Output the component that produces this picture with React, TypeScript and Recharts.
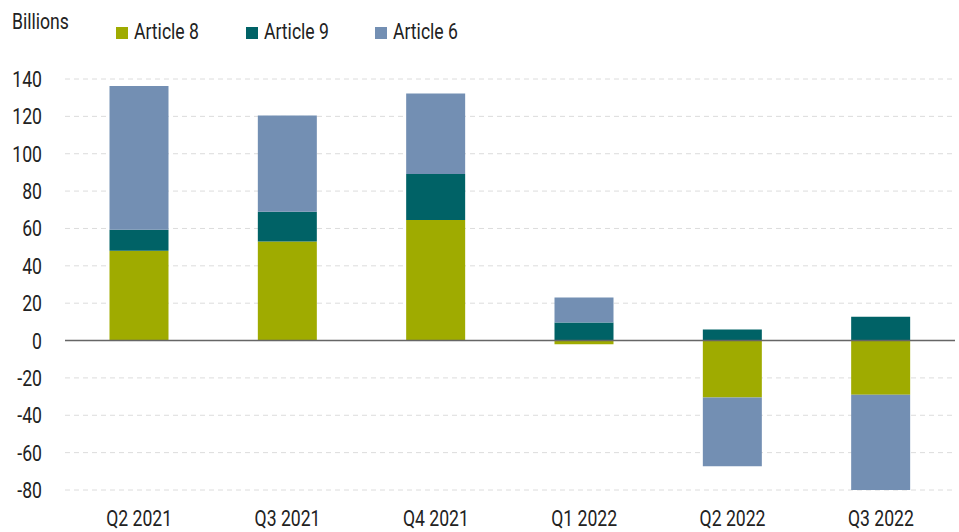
import React from "react";
import {
  Bar,
  BarChart,
  CartesianGrid,
  ReferenceLine,
  XAxis,
  YAxis,
} from "recharts";

const quarters = ["Q2 2021", "Q3 2021", "Q4 2021", "Q1 2022", "Q2 2022", "Q3 2022"];
const article8 = [48, 53, 64.5, -2, -30.5, -29];
const article9 = [11.3, 16, 24.6, 9.6, 5.9, 12.8];
const article6 = [77, 51.4, 43.2, 13.4, -36.8, -51.7];
const yTicks = [-80, -60, -40, -20, 0, 20, 40, 60, 80, 100, 120, 140];

const FONT = "Roboto, 'Noto Sans', sans-serif";
const TEXT = "#222";
const SQUEEZE = 0.8;

const series = [
  { key: "article8", name: "Article 8", color: "#9fab00" },
  { key: "article9", name: "Article 9", color: "#006266" },
  { key: "article6", name: "Article 6", color: "#738fb3" },
];
const legendX = [116, 246, 375];

const data = quarters.map((q, i) => ({
  quarter: q,
  article8: article8[i],
  article9: article9[i],
  article6: article6[i],
}));

// narrow text, the original uses a condensed face
function Narrow({ x, y, anchor, children }: any) {
  return (
    <g transform={`translate(${x},${y}) scale(${SQUEEZE},1)`}>
      <text
        x={0}
        y={0}
        textAnchor={anchor}
        fill={TEXT}
        fontSize={22}
        fontWeight={400}
        fontFamily={FONT}
      >
        {children}
      </text>
    </g>
  );
}

function YTick(props: any) {
  const { x, y, payload } = props;
  return <Narrow x={x} y={y + 8} anchor="end">{payload.value}</Narrow>;
}

function XTick(props: any) {
  const { x, y, payload } = props;
  return <Narrow x={x} y={y + 14} anchor="middle">{payload.value}</Narrow>;
}

export default function App() {
  return (
    <div style={{ position: "absolute", left: 0, top: 0, width: 959, height: 532, background: "#fff" }}>
      <BarChart
        width={959}
        height={532}
        data={data}
        stackOffset="sign"
        barCategoryGap="30%"
        margin={{ top: 79, right: 4, bottom: 0, left: 0 }}
      >
        <CartesianGrid
          vertical={false}
          stroke="#dcdcdc"
          strokeDasharray="5 4"
        />
        <XAxis
          dataKey="quarter"
          axisLine={false}
          tickLine={false}
          tickSize={0}
          tickMargin={22}
          height={42}
          interval={0}
          tick={<XTick />}
        />
        <YAxis
          domain={[-80, 140]}
          ticks={yTicks}
          allowDataOverflow
          axisLine={false}
          tickLine={false}
          tickSize={0}
          tickMargin={23}
          width={65}
          tick={<YTick />}
        />
        {series.map((s) => (
          <Bar
            key={s.key}
            dataKey={s.key}
            name={s.name}
            stackId="a"
            fill={s.color}
            isAnimationActive={false}
          />
        ))}
        <ReferenceLine y={0} stroke="#666" strokeWidth={1.5} />
      </BarChart>
      <svg
        width={959}
        height={60}
        style={{ position: "absolute", left: 0, top: 0, pointerEvents: "none" }}
      >
        <Narrow x={12} y={29} anchor="start">Billions</Narrow>
        {series.map((s, i) => (
          <g key={s.key}>
            <rect x={legendX[i]} y={27} width={12} height={12} fill={s.color} />
            <Narrow x={legendX[i] + 18} y={39} anchor="start">{s.name}</Narrow>
          </g>
        ))}
      </svg>
    </div>
  );
}
